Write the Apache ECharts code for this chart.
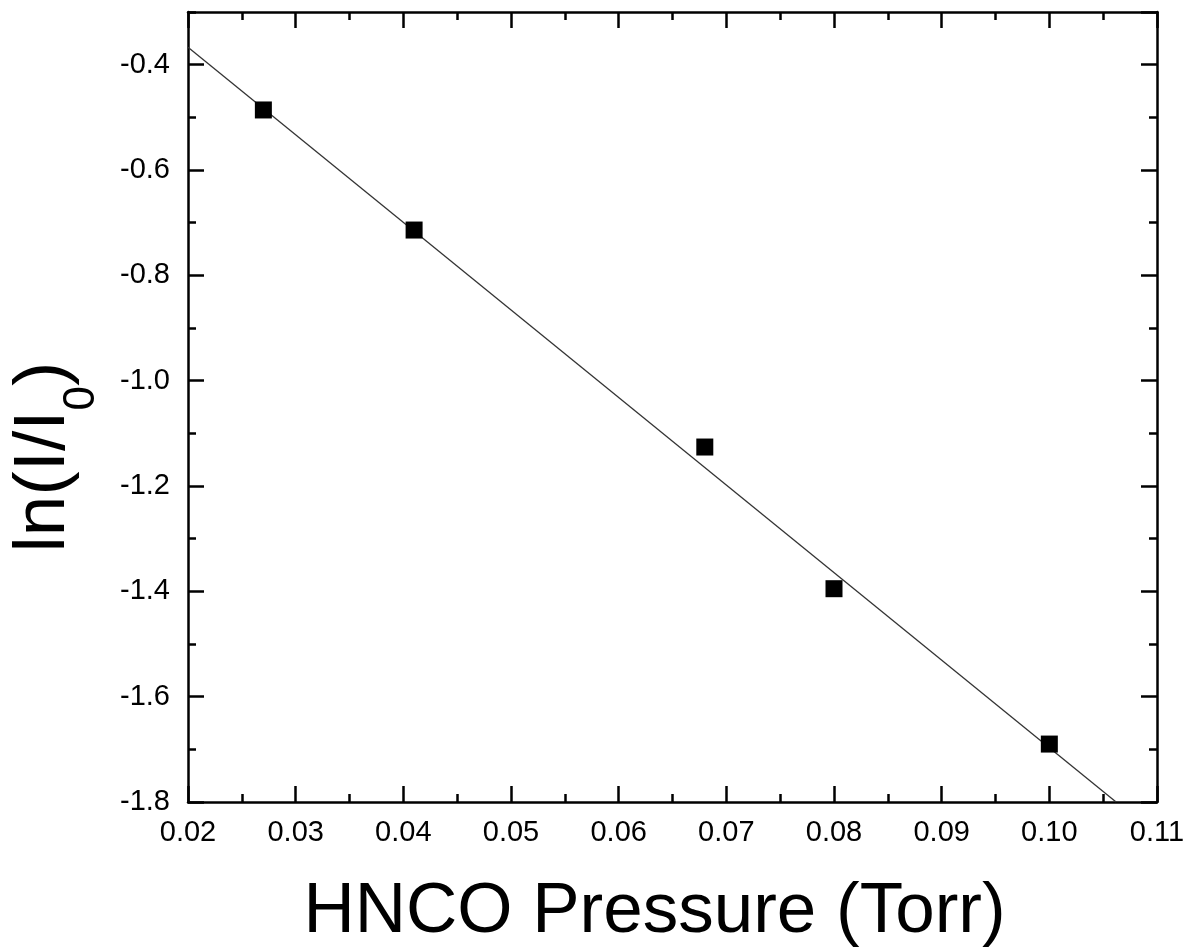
<!DOCTYPE html>
<html>
<head>
<meta charset="utf-8">
<script src="https://cdn.jsdelivr.net/npm/echarts@6/dist/echarts.min.js"></script>
<style>html,body{margin:0;padding:0;background:#fff;}#c{width:1187px;height:951px;}</style>
</head>
<body>
<div id="c"></div>
<script>
// Data
const pressure = [0.027, 0.041, 0.068, 0.080, 0.100];
const lnRatio = [-0.486, -0.714, -1.126, -1.395, -1.690];
// Linear fit line endpoints (x, y)
const fitX = [0.020, 0.1062];
const fitY = [-0.367, -1.800];
// Axis tick labels
const xTickLabels = ['0.02','0.03','0.04','0.05','0.06','0.07','0.08','0.09','0.10','0.11'];
const yTickLabels = ['-1.8','-1.6','-1.4','-1.2','-1.0','-0.8','-0.6','-0.4'];

const chart = echarts.init(document.getElementById('c'), null, {renderer: 'canvas'});
const FONT = '"Liberation Sans", Arial, sans-serif';
const lineStyle = {color: '#000', width: 2.5};

function xFmt(v) {
  const i = Math.round((v - 0.02) / 0.01);
  return xTickLabels[i] !== undefined ? xTickLabels[i] : '';
}
function yFmt(v) {
  const i = Math.round((v + 1.8) / 0.2);
  return yTickLabels[i] !== undefined ? yTickLabels[i] : '';
}

const option = {
  backgroundColor: '#fff',
  animation: false,
  grid: {left: 188, right: 30, top: 12, bottom: 149, containLabel: false, outerBoundsMode: 'none'},
  xAxis: [
    {
      type: 'value', position: 'bottom', min: 0.02, max: 0.11, interval: 0.01,
      axisLine: {show: true, onZero: false, lineStyle: lineStyle},
      axisTick: {show: true, inside: true, length: 16, lineStyle: {color: '#000', width: 2.5}},
      minorTick: {show: true, splitNumber: 2, length: 8, lineStyle: {color: '#000', width: 2.5}},
      splitLine: {show: false},
      axisLabel: {show: true, formatter: xFmt, fontFamily: FONT, fontSize: 29, color: '#000', margin: 16},
      name: 'HNCO Pressure (Torr)', nameLocation: 'middle', nameGap: 75,
      nameTextStyle: {fontFamily: FONT, fontSize: 71, color: '#000', padding: [0, 36, 0, 0]}
    },
    {
      type: 'value', position: 'top', min: 0.02, max: 0.11, interval: 0.01,
      axisLine: {show: true, onZero: false, lineStyle: lineStyle},
      axisTick: {show: true, inside: true, length: 16, lineStyle: {color: '#000', width: 2.5}},
      minorTick: {show: true, splitNumber: 2, length: 8, lineStyle: {color: '#000', width: 2.5}},
      splitLine: {show: false},
      axisLabel: {show: false}
    }
  ],
  yAxis: [
    {
      type: 'value', position: 'left', min: -1.8, max: -0.3, interval: 0.2,
      axisLine: {show: true, onZero: false, lineStyle: lineStyle},
      axisTick: {show: true, inside: true, length: 16, lineStyle: {color: '#000', width: 2.5}},
      splitLine: {show: false},
      axisLabel: {show: true, formatter: yFmt, fontFamily: FONT, fontSize: 29, color: '#000', margin: 18, showMaxLabel: false},
      name: '{a|ln(I/I}{s|0}{a|)}', nameLocation: 'middle', nameGap: 84, nameRotate: 90,
      nameTextStyle: {
        fontFamily: FONT, color: '#000', padding: [0, 100, 0, 0],
        rich: {
          a: {fontFamily: FONT, fontSize: 73, color: '#000'},
          s: {fontFamily: FONT, fontSize: 44, color: '#000', padding: [76, 0, 0, 0]}
        }
      }
    },
    {
      type: 'value', position: 'left', min: -1.8, max: -0.3, interval: 0.1,
      axisLine: {show: false, onZero: false},
      axisTick: {show: true, inside: true, length: 8, lineStyle: {color: '#000', width: 2.5}},
      splitLine: {show: false},
      axisLabel: {show: false}
    },
    {
      type: 'value', position: 'right', min: -1.8, max: -0.3, interval: 0.2,
      axisLine: {show: true, onZero: false, lineStyle: lineStyle},
      axisTick: {show: true, inside: true, length: 16, lineStyle: {color: '#000', width: 2.5}},
      splitLine: {show: false},
      axisLabel: {show: false}
    },
    {
      type: 'value', position: 'right', min: -1.8, max: -0.3, interval: 0.1,
      axisLine: {show: false, onZero: false},
      axisTick: {show: true, inside: true, length: 8, lineStyle: {color: '#000', width: 2.5}},
      splitLine: {show: false},
      axisLabel: {show: false}
    }
  ],
  series: [
    {
      type: 'line',
      data: fitX.map((x, i) => [x, fitY[i]]),
      showSymbol: false, symbol: 'none',
      lineStyle: {color: '#333', width: 1.3},
      z: 2
    },
    {
      type: 'scatter',
      data: pressure.map((x, i) => [x, lnRatio[i]]),
      symbol: 'rect', symbolSize: 17,
      itemStyle: {color: '#000', opacity: 1},
      z: 3
    }
  ]
};
chart.setOption(option);
</script>
</body>
</html>
